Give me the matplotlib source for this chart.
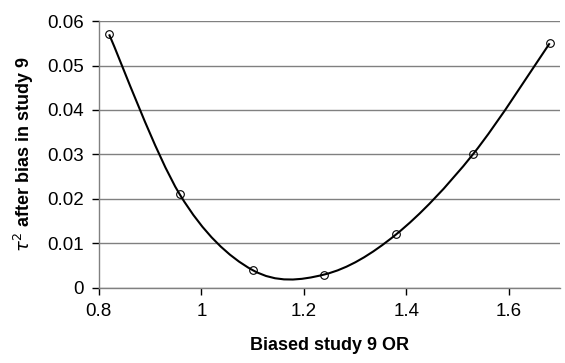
import numpy as np
import matplotlib
matplotlib.use("Agg")
import matplotlib.pyplot as plt
from matplotlib.path import Path
from matplotlib.patches import PathPatch

plt.rcParams['font.family'] = ['Liberation Sans', 'DejaVu Sans']

# data
odds_ratio = [0.82, 0.958, 1.10, 1.24, 1.38, 1.53, 1.68]
tau2 = [0.057, 0.021, 0.004, 0.003, 0.012, 0.030, 0.055]
x_ticks = [0.8, 1.0, 1.2, 1.4, 1.6]
x_tick_labels = ['0.8', '1', '1.2', '1.4', '1.6']
y_ticks = [0, 0.01, 0.02, 0.03, 0.04, 0.05, 0.06]
y_tick_labels = ['0', '0.01', '0.02', '0.03', '0.04', '0.05', '0.06']


def smooth_path(xs, ys):
    # excel-style smoothed line: cubic bezier through each point
    pts = np.column_stack([xs, ys])
    n = len(pts)
    verts = [pts[0]]
    codes = [Path.MOVETO]
    for i in range(n - 1):
        p0 = pts[i - 1] if i > 0 else pts[i]
        p1 = pts[i]
        p2 = pts[i + 1]
        p3 = pts[i + 2] if i + 2 < n else pts[i + 1]
        c1 = p1 + (p2 - p0) / 6.0
        c2 = p2 - (p3 - p1) / 6.0
        verts += [c1, c2, p2]
        codes += [Path.CURVE4] * 3
    return Path(verts, codes)


fig = plt.figure(figsize=(5.65, 3.63), dpi=100)
ax = fig.add_axes([0.175, 0.207, 0.816, 0.735])

ax.add_patch(PathPatch(smooth_path(odds_ratio, tau2), facecolor='none',
                       edgecolor='black', linewidth=1.5, zorder=3))
ax.plot(odds_ratio, tau2, linestyle='none', marker='o', markersize=5.5,
        markerfacecolor='none', markeredgecolor='black',
        markeredgewidth=0.8, zorder=4)

ax.set_xlim(0.8, 1.7)
ax.set_ylim(0, 0.06)
ax.set_xticks(x_ticks)
ax.set_xticklabels(x_tick_labels)
ax.set_yticks(y_ticks)
ax.set_yticklabels(y_tick_labels)
ax.tick_params(labelsize=13.5, direction='out', length=5, width=1,
               color='black', pad=6)

ax.yaxis.grid(True, color='#808080', linewidth=1)
ax.set_axisbelow(True)
for s in ['top', 'right']:
    ax.spines[s].set_visible(False)
for s in ['left', 'bottom']:
    ax.spines[s].set_color('#808080')
    ax.spines[s].set_linewidth(1)

ax.set_xlabel('Biased study 9 OR', fontsize=13, fontweight='bold', labelpad=12)
ax.set_ylabel(r'$\tau^2$ after bias in study 9', fontsize=13,
              fontweight='bold', labelpad=8)

plt.savefig('out.png', dpi=100)
